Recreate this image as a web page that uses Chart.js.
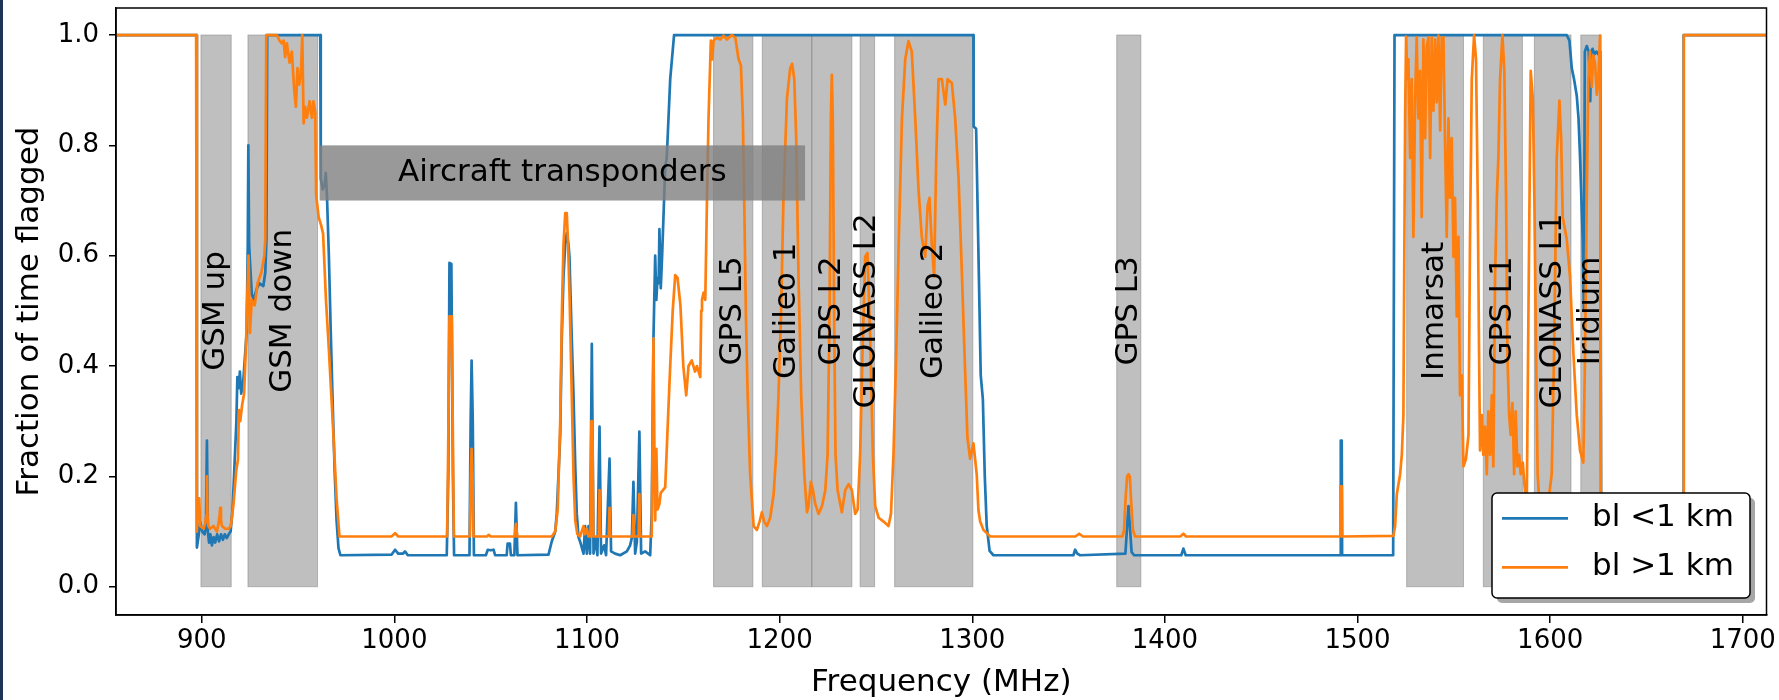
<!DOCTYPE html>
<html>
<head>
<meta charset="utf-8">
<title>Flagging versus frequency</title>
<script src="https://cdn.jsdelivr.net/npm/chart.js@4.4.1/dist/chart.umd.min.js"></script>
<style>
  html, body { margin: 0; padding: 0; background: #fff; }
  #wrap { position: relative; width: 1779px; height: 700px; }
  #edge { position: absolute; left: 0; top: 0; width: 3px; height: 700px; background: #1c3557; }
</style>
</head>
<body>
<div id="wrap"><canvas id="flagChart" width="1779" height="700"></canvas><div id="edge"></div></div>
<script>
// axis ticks
const xTicks = [900, 1000, 1100, 1200, 1300, 1400, 1500, 1600, 1700];
const yTicks = [0, 0.2, 0.4, 0.6, 0.8, 1.0];

// allocated bands (MHz)
const bandNames = ['GSM up', 'GSM down', 'GPS L5', 'Galileo 1', 'GPS L2', 'GLONASS L2',
  'Galileo 2', 'GPS L3', 'Inmarsat', 'GPS L1', 'GLONASS L1', 'Iridium'];
const bandLow = [899.6, 924.0, 1165.7, 1191.0, 1216.7, 1241.8, 1259.7, 1375.0, 1525.5, 1565.3, 1591.8, 1615.9];
const bandHigh = [915.3, 960.1, 1186.1, 1216.7, 1237.5, 1249.3, 1300.3, 1387.5, 1555.0, 1585.6, 1610.8, 1626.4];

// aircraft transponder range: [low MHz, high MHz, low frac, high frac]
const aircraftLabel = 'Aircraft transponders';
const aircraftRange = [961.2, 1213.2, 0.7, 0.8];

// flagged fraction, baselines shorter than 1 km  [MHz, fraction]
const shortBl = [
  [855.5, 1.0], [897.3, 1.0], [897.5, 0.071], [898.3, 0.09], [899.2, 0.117], [900.3, 0.10],
  [901.5, 0.095], [902.2, 0.11], [902.7, 0.265], [903.2, 0.10], [903.8, 0.08], [904.5, 0.095],
  [905.3, 0.075], [906.2, 0.09], [907.0, 0.08], [908.0, 0.095], [909.0, 0.082], [910.0, 0.095],
  [911.0, 0.085], [912.0, 0.095], [913.0, 0.088], [914.0, 0.095], [915.0, 0.10], [916.0, 0.14],
  [917.0, 0.22], [918.0, 0.30], [918.5, 0.38], [919.2, 0.36], [919.8, 0.39], [920.5, 0.35],
  [921.5, 0.37], [922.5, 0.42], [923.3, 0.46], [923.9, 0.62], [924.2, 0.80], [924.6, 0.62],
  [925.2, 0.58], [926.0, 0.53], [927.0, 0.52], [928.5, 0.54], [930.0, 0.55], [932.0, 0.545],
  [933.0, 0.57], [933.6, 0.63], [934.0, 1.0], [961.5, 1.0], [961.8, 0.74], [962.8, 0.72],
  [963.8, 0.73], [964.4, 0.75], [965.0, 0.71], [966.0, 0.60], [967.0, 0.46], [968.0, 0.33],
  [969.0, 0.21], [970.0, 0.12], [971.0, 0.07], [972.0, 0.057], [998.5, 0.058], [1000.4, 0.067],
  [1002.0, 0.06], [1004.5, 0.06], [1005.5, 0.064], [1007.0, 0.057], [1027.2, 0.057], [1028.0, 0.2],
  [1028.6, 0.587], [1029.6, 0.585], [1030.4, 0.2], [1031.0, 0.057], [1039.0, 0.057], [1039.6, 0.3],
  [1040.1, 0.41], [1040.7, 0.3], [1041.3, 0.057], [1047.5, 0.057], [1048.5, 0.067], [1050.0, 0.066],
  [1051.5, 0.067], [1052.3, 0.057], [1058.3, 0.057], [1058.8, 0.078], [1060.0, 0.078], [1060.5, 0.057],
  [1062.3, 0.057], [1063.1, 0.152], [1063.9, 0.057], [1080.0, 0.058], [1081.7, 0.082], [1083.5, 0.10],
  [1084.3, 0.132], [1086.1, 0.275], [1086.9, 0.45], [1087.8, 0.562], [1088.7, 0.62], [1089.5, 0.641],
  [1090.4, 0.62], [1090.9, 0.598], [1092.1, 0.45], [1093.0, 0.347], [1093.9, 0.22], [1094.7, 0.132],
  [1095.6, 0.09], [1096.4, 0.082], [1098.2, 0.06], [1099.0, 0.11], [1099.9, 0.06], [1100.8, 0.11],
  [1101.6, 0.06], [1102.5, 0.44], [1103.4, 0.06], [1104.6, 0.089], [1105.4, 0.057], [1106.5, 0.29],
  [1107.3, 0.06], [1108.9, 0.075], [1109.9, 0.057], [1111.7, 0.232], [1112.5, 0.064], [1114.6, 0.06],
  [1117.2, 0.057], [1120.7, 0.064], [1122.4, 0.075], [1123.3, 0.089], [1124.1, 0.19], [1125.0, 0.06],
  [1125.9, 0.082], [1127.2, 0.281], [1128.1, 0.06], [1130.2, 0.064], [1132.8, 0.057], [1133.6, 0.132],
  [1134.5, 0.45], [1135.4, 0.60], [1136.0, 0.52], [1136.6, 0.56], [1137.2, 0.55], [1137.6, 0.648],
  [1138.3, 0.541], [1139.0, 0.60], [1140.6, 0.76], [1141.4, 0.777], [1143.2, 0.92], [1145.2, 1.0],
  [1300.6, 1.0], [1300.7, 0.834], [1302.0, 0.83], [1303.5, 0.55], [1304.4, 0.383], [1305.5, 0.34],
  [1306.5, 0.20], [1307.5, 0.11], [1309.0, 0.065], [1311.0, 0.057], [1352.5, 0.057], [1353.4, 0.067],
  [1354.5, 0.06], [1356.0, 0.057], [1379.5, 0.06], [1380.4, 0.11], [1381.1, 0.146], [1381.8, 0.11],
  [1382.7, 0.063], [1384.0, 0.057], [1408.5, 0.057], [1409.6, 0.069], [1410.8, 0.057], [1491.1, 0.057],
  [1491.3, 0.265], [1491.8, 0.265], [1492.0, 0.057], [1518.5, 0.057], [1519.2, 1.0], [1608.6, 1.0],
  [1610.0, 0.99], [1611.2, 0.94], [1612.4, 0.92], [1613.8, 0.89], [1614.7, 0.85], [1615.5, 0.78],
  [1616.9, 0.63], [1617.5, 0.5], [1618.0, 0.97], [1619.0, 0.98], [1620.0, 0.97], [1620.8, 0.88],
  [1621.3, 0.97], [1622.0, 0.975], [1623.0, 0.965], [1624.0, 0.97], [1625.0, 0.965], [1626.0, 0.97],
  [1626.5, 0.06], [1669.0, 0.057], [1669.3, 1.0], [1712.3, 1.0]
];

// flagged fraction, baselines longer than 1 km  [MHz, fraction]
const longBl = [
  [855.5, 1.0], [897.1, 1.0], [897.5, 0.10], [898.0, 0.16], [898.7, 0.16], [899.2, 0.11],
  [901.0, 0.105], [901.8, 0.115], [902.4, 0.13], [902.7, 0.20], [903.0, 0.13], [903.4, 0.11],
  [904.4, 0.105], [906.1, 0.11], [907.9, 0.10], [908.7, 0.115], [909.3, 0.13], [909.6, 0.143],
  [910.0, 0.12], [910.5, 0.11], [912.2, 0.105], [913.9, 0.105], [915.1, 0.11], [916.5, 0.15],
  [917.9, 0.21], [918.8, 0.23], [919.3, 0.32], [920.0, 0.30], [921.0, 0.33], [922.0, 0.35],
  [923.0, 0.44], [923.6, 0.52], [924.3, 0.60], [925.0, 0.46], [926.0, 0.52], [927.5, 0.51],
  [929.0, 0.55], [931.0, 0.57], [932.5, 0.60], [933.0, 0.63], [933.5, 1.0], [939.0, 1.0],
  [940.4, 0.99], [941.6, 0.985], [942.5, 0.99], [943.3, 0.96], [944.2, 0.985], [945.6, 0.95],
  [946.8, 0.97], [948.0, 0.90], [948.9, 0.87], [949.7, 0.94], [950.6, 0.91], [951.5, 0.93],
  [952.2, 1.0], [952.9, 0.84], [953.7, 0.87], [954.6, 0.85], [956.0, 0.88], [957.2, 0.85],
  [958.0, 0.88], [958.9, 0.86], [959.4, 0.71], [960.7, 0.67], [962.0, 0.655], [963.0, 0.64],
  [964.5, 0.52], [966.0, 0.43], [968.0, 0.30], [970.0, 0.16], [971.5, 0.091], [998.5, 0.091],
  [1000.4, 0.097], [1002.0, 0.091], [1027.4, 0.091], [1028.1, 0.3], [1028.6, 0.49], [1029.8, 0.49],
  [1030.3, 0.3], [1030.9, 0.091], [1039.2, 0.091], [1039.7, 0.2], [1040.1, 0.25], [1040.6, 0.2],
  [1041.1, 0.091], [1048.0, 0.091], [1049.0, 0.094], [1050.0, 0.091], [1062.5, 0.091], [1063.1, 0.114],
  [1063.8, 0.091], [1081.7, 0.091], [1083.5, 0.10], [1084.8, 0.14], [1086.1, 0.30], [1087.0, 0.50],
  [1087.8, 0.62], [1088.7, 0.677], [1089.5, 0.677], [1090.2, 0.62], [1091.0, 0.52], [1092.1, 0.347],
  [1093.0, 0.20], [1093.9, 0.12], [1095.0, 0.095], [1096.4, 0.091], [1098.2, 0.11], [1099.0, 0.095],
  [1099.9, 0.105], [1100.8, 0.091], [1101.8, 0.091], [1102.3, 0.30], [1102.8, 0.30], [1103.3, 0.091],
  [1106.1, 0.091], [1106.5, 0.175], [1106.9, 0.091], [1111.3, 0.091], [1111.7, 0.143], [1112.1, 0.091],
  [1123.7, 0.091], [1124.1, 0.13], [1124.5, 0.091], [1126.8, 0.091], [1127.2, 0.168], [1127.6, 0.091],
  [1133.6, 0.091], [1134.5, 0.45], [1135.0, 0.25], [1135.4, 0.12], [1136.0, 0.25], [1136.6, 0.14],
  [1137.6, 0.15], [1138.3, 0.17], [1140.6, 0.18], [1142.0, 0.30], [1143.2, 0.40], [1144.5, 0.50],
  [1145.8, 0.565], [1147.0, 0.56], [1148.5, 0.51], [1150.0, 0.40], [1151.5, 0.347], [1152.7, 0.40],
  [1154.4, 0.41], [1156.1, 0.39], [1157.1, 0.40], [1158.8, 0.38], [1159.3, 0.50], [1159.7, 0.52],
  [1160.5, 0.533], [1161.4, 0.52], [1162.3, 0.705], [1163.1, 0.85], [1164.3, 0.99], [1165.0, 0.956],
  [1165.7, 0.99], [1167.5, 0.995], [1169.2, 0.992], [1170.9, 0.999], [1172.6, 0.992], [1175.2, 1.0],
  [1177.0, 0.995], [1178.7, 0.956], [1179.9, 0.945], [1180.9, 0.85], [1181.6, 0.705], [1182.5, 0.49],
  [1183.4, 0.347], [1184.7, 0.204], [1186.5, 0.11], [1188.2, 0.103], [1189.6, 0.118], [1190.8, 0.135],
  [1192.0, 0.118], [1193.4, 0.11], [1195.1, 0.125], [1196.9, 0.168], [1198.2, 0.24], [1199.4, 0.347],
  [1200.7, 0.49], [1202.0, 0.705], [1203.8, 0.885], [1205.5, 0.94], [1206.5, 0.948], [1207.6, 0.92],
  [1208.6, 0.813], [1209.8, 0.562], [1211.2, 0.347], [1212.8, 0.204], [1214.2, 0.135], [1215.0, 0.146],
  [1216.2, 0.19], [1217.3, 0.175], [1218.5, 0.15], [1220.2, 0.132], [1222.0, 0.146], [1223.7, 0.175],
  [1224.9, 0.24], [1225.9, 0.49], [1226.6, 0.85], [1227.1, 0.928], [1227.6, 0.85], [1228.3, 0.49],
  [1229.0, 0.24], [1230.1, 0.175], [1232.3, 0.135], [1234.1, 0.175], [1235.8, 0.186], [1237.5, 0.175],
  [1239.2, 0.132], [1240.5, 0.14], [1241.8, 0.24], [1243.0, 0.42], [1244.4, 0.598], [1245.6, 0.605],
  [1247.0, 0.455], [1248.4, 0.24], [1249.6, 0.146], [1251.4, 0.125], [1254.0, 0.118], [1256.5, 0.11],
  [1257.8, 0.132], [1259.1, 0.24], [1260.5, 0.42], [1261.9, 0.634], [1263.5, 0.849], [1265.2, 0.956],
  [1266.9, 0.989], [1268.6, 0.97], [1270.4, 0.849], [1272.1, 0.72], [1273.8, 0.634], [1275.6, 0.598],
  [1276.8, 0.69], [1277.8, 0.705], [1279.0, 0.62], [1280.2, 0.562], [1281.3, 0.777], [1282.5, 0.92],
  [1284.2, 0.92], [1286.0, 0.874], [1287.2, 0.92], [1289.4, 0.913], [1291.1, 0.85], [1292.9, 0.74],
  [1294.5, 0.58], [1296.0, 0.42], [1297.5, 0.27], [1298.9, 0.232], [1300.6, 0.26], [1302.3, 0.204],
  [1303.2, 0.139], [1304.1, 0.118], [1305.8, 0.103], [1309.3, 0.091], [1353.5, 0.091], [1355.5, 0.096],
  [1357.5, 0.091], [1378.0, 0.091], [1378.8, 0.103], [1379.6, 0.16], [1380.4, 0.2], [1381.1, 0.204],
  [1381.8, 0.2], [1382.6, 0.146], [1383.4, 0.103], [1384.5, 0.091], [1408.0, 0.091], [1409.6, 0.096],
  [1411.0, 0.091], [1491.0, 0.091], [1491.2, 0.182], [1491.8, 0.182], [1492.0, 0.091], [1518.6, 0.092],
  [1519.5, 0.11], [1520.4, 0.168], [1522.1, 0.204], [1523.0, 0.24], [1523.8, 0.31], [1524.7, 0.85],
  [1525.2, 0.997], [1525.9, 0.92], [1526.4, 0.956], [1527.3, 0.777], [1528.1, 0.92], [1529.0, 0.634],
  [1529.9, 0.885], [1530.7, 0.996], [1531.6, 0.849], [1532.5, 0.935], [1533.3, 0.67], [1534.2, 0.992],
  [1535.1, 0.813], [1535.9, 0.978], [1536.8, 0.996], [1537.7, 0.777], [1538.5, 0.996], [1539.4, 0.863],
  [1540.3, 0.992], [1541.1, 0.878], [1542.0, 0.999], [1542.9, 0.827], [1543.7, 0.996], [1544.6, 0.996],
  [1545.4, 0.813], [1546.3, 0.634], [1547.2, 0.849], [1548.0, 0.705], [1548.9, 0.813], [1549.8, 0.598],
  [1550.6, 0.705], [1551.5, 0.49], [1552.4, 0.634], [1553.2, 0.347], [1554.1, 0.383], [1555.0, 0.218],
  [1556.3, 0.232], [1557.6, 0.275], [1558.4, 0.634], [1559.3, 0.92], [1560.5, 1.0], [1561.5, 0.956],
  [1562.4, 0.705], [1563.1, 0.42], [1563.6, 0.247], [1564.5, 0.311], [1565.3, 0.239], [1566.2, 0.29],
  [1567.1, 0.204], [1567.9, 0.318], [1568.8, 0.239], [1569.7, 0.347], [1570.5, 0.218], [1571.4, 0.562],
  [1572.3, 0.705], [1573.1, 0.777], [1574.0, 0.92], [1575.2, 1.0], [1576.2, 0.935], [1577.1, 0.705],
  [1577.8, 0.42], [1578.7, 0.311], [1579.5, 0.275], [1580.4, 0.333], [1581.3, 0.204], [1582.1, 0.318],
  [1583.0, 0.218], [1583.9, 0.239], [1584.7, 0.204], [1585.8, 0.225], [1587.0, 0.168], [1587.8, 0.13],
  [1588.7, 0.49], [1589.9, 0.935], [1591.0, 0.885], [1591.8, 0.705], [1592.7, 0.42], [1593.5, 0.204],
  [1594.8, 0.13], [1598.2, 0.13], [1600.8, 0.204], [1602.0, 0.42], [1603.4, 0.777], [1604.8, 0.881],
  [1605.7, 0.813], [1606.5, 0.67], [1608.6, 0.63], [1610.3, 0.562], [1612.1, 0.42], [1613.8, 0.311],
  [1615.5, 0.247], [1617.2, 0.225], [1618.1, 0.42], [1619.0, 0.705], [1619.8, 0.92], [1620.7, 0.97],
  [1621.6, 0.906], [1622.4, 0.963], [1623.3, 0.949], [1624.2, 0.892], [1625.0, 0.92], [1625.9, 0.999],
  [1626.4, 0.091], [1669.2, 0.091], [1669.4, 1.0], [1712.3, 1.0]
];

const seriesNames = ['bl <1 km', 'bl >1 km'];
const seriesColors = ['#1f77b4', '#ff7f0e'];

const FONT = '"DejaVu Sans", sans-serif';

// shaded bands go under the curves, labels and legend on top
const bandPlugin = {
  id: 'bands',
  beforeDatasetsDraw(chart) {
    const { ctx, scales: { x, y } } = chart;
    ctx.save();
    ctx.fillStyle = 'rgba(128,128,128,0.5)';
    ctx.strokeStyle = 'rgba(128,128,128,0.5)';
    ctx.lineWidth = 1;
    const top = y.getPixelForValue(1), bottom = y.getPixelForValue(0);
    for (let i = 0; i < bandNames.length; i++) {
      const x0 = x.getPixelForValue(bandLow[i]);
      const x1 = x.getPixelForValue(bandHigh[i]);
      ctx.fillRect(x0, top, x1 - x0, bottom - top);
      ctx.strokeRect(x0, top, x1 - x0, bottom - top);
    }
    ctx.restore();
  },
  afterDatasetsDraw(chart) {
    const { ctx, chartArea, scales: { x, y } } = chart;
    ctx.save();

    // aircraft transponder box sits over the lines
    const ax0 = x.getPixelForValue(aircraftRange[0]);
    const ax1 = x.getPixelForValue(aircraftRange[1]);
    const ay0 = y.getPixelForValue(aircraftRange[3]);
    const ay1 = y.getPixelForValue(aircraftRange[2]);
    ctx.fillStyle = 'rgba(128,128,128,0.8)';
    ctx.fillRect(ax0, ay0, ax1 - ax0, ay1 - ay0);

    ctx.fillStyle = '#000';
    ctx.font = '31px ' + FONT;
    ctx.textAlign = 'center';
    ctx.textBaseline = 'middle';
    ctx.fillText(aircraftLabel, (ax0 + ax1) / 2, (ay0 + ay1) / 2);

    // vertical band names
    const midY = y.getPixelForValue(0.5);
    for (let i = 0; i < bandNames.length; i++) {
      const cx = x.getPixelForValue((bandLow[i] + bandHigh[i]) / 2);
      ctx.save();
      ctx.translate(cx, midY);
      ctx.rotate(-Math.PI / 2);
      ctx.fillText(bandNames[i], 0, 0);
      ctx.restore();
    }

    // axes frame
    ctx.strokeStyle = '#000';
    ctx.lineWidth = 1.5;
    ctx.strokeRect(chartArea.left, chartArea.top,
      chartArea.right - chartArea.left, chartArea.bottom - chartArea.top);

    // legend, lower right with a drop shadow
    const lw = 258, lh = 105;
    const lx = chartArea.right - 16.5 - lw;
    const ly = chartArea.bottom - 17 - lh;
    const roundBox = (bx, by) => {
      ctx.beginPath();
      ctx.roundRect(bx, by, lw, lh, 5);
    };
    ctx.fillStyle = 'rgba(77,77,77,0.5)';
    roundBox(lx + 5, ly + 5);
    ctx.fill();
    ctx.fillStyle = '#fff';
    roundBox(lx, ly);
    ctx.fill();
    ctx.strokeStyle = '#000';
    ctx.lineWidth = 1.5;
    ctx.stroke();

    ctx.textAlign = 'left';
    ctx.lineWidth = 2.7;
    for (let i = 0; i < seriesNames.length; i++) {
      const rowY = ly + 25.3 + i * 49;
      ctx.strokeStyle = seriesColors[i];
      ctx.beginPath();
      ctx.moveTo(lx + 10, rowY);
      ctx.lineTo(lx + 76, rowY);
      ctx.stroke();
      ctx.fillStyle = '#000';
      ctx.fillText(seriesNames[i], lx + 100, rowY);
    }
    ctx.restore();
  }
};

const axisFont = { family: FONT, size: 26 };
const titleFont = { family: FONT, size: 31, lineHeight: 1.2 };

new Chart(document.getElementById('flagChart'), {
  type: 'line',
  data: {
    datasets: [
      {
        label: seriesNames[0],
        data: shortBl.map(([f, v]) => ({ x: f, y: v })),
        borderColor: seriesColors[0],
        borderWidth: 2.7,
        order: 1
      },
      {
        label: seriesNames[1],
        data: longBl.map(([f, v]) => ({ x: f, y: v })),
        borderColor: seriesColors[1],
        borderWidth: 2.7,
        order: 0
      }
    ]
  },
  options: {
    responsive: false,
    animation: false,
    devicePixelRatio: 1,
    layout: { padding: { top: 8, right: 12.5, left: 0, bottom: 0 } },
    elements: {
      point: { radius: 0 },
      line: { tension: 0, fill: false, borderJoinStyle: 'round' }
    },
    plugins: {
      legend: { display: false },
      tooltip: { enabled: false }
    },
    scales: {
      x: {
        type: 'linear',
        min: 855.5,
        max: 1712.3,
        afterBuildTicks: (s) => { s.ticks = xTicks.map(v => ({ value: v })); },
        afterFit: (s) => { s.height = 85; s.paddingLeft = 0; s.paddingRight = 0; },
        ticks: {
          font: axisFont, color: '#000', padding: 3, maxRotation: 0, autoSkip: false,
          callback: (v) => String(v)
        },
        grid: { drawOnChartArea: false, drawTicks: true, tickLength: 8, color: '#000', lineWidth: 1.5 },
        border: { display: true, color: '#000', width: 1.5 },
        title: {
          display: true, text: 'Frequency (MHz)', font: titleFont, color: '#000',
          padding: { top: 0, bottom: -1.2 }
        }
      },
      y: {
        type: 'linear',
        min: -0.0513,
        max: 1.049,
        afterBuildTicks: (s) => { s.ticks = yTicks.map(v => ({ value: v })); },
        afterFit: (s) => { s.width = 116; s.paddingTop = 0; s.paddingBottom = 0; },
        ticks: { font: axisFont, color: '#000', padding: 10, callback: (v) => v.toFixed(1) },
        grid: { drawOnChartArea: false, drawTicks: true, tickLength: 7, color: '#000', lineWidth: 1.5 },
        border: { display: true, color: '#000', width: 1.5 },
        title: {
          display: true, text: 'Fraction of time flagged', font: titleFont, color: '#000',
          padding: { top: 11.7, bottom: 0 }
        }
      }
    }
  },
  plugins: [bandPlugin]
});
</script>
</body>
</html>
